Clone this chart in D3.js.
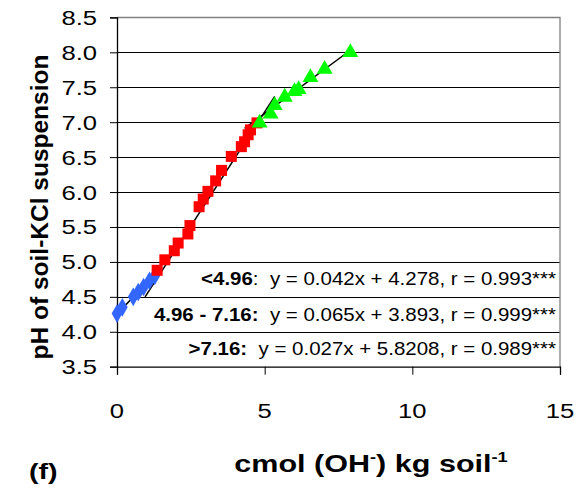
<!DOCTYPE html>
<html>
<head>
<meta charset="utf-8">
<script src="https://cdn.jsdelivr.net/npm/d3@7/dist/d3.min.js"></script>
<style>
  body { margin: 0; background: #fff; }
  text { font-family: "Liberation Sans", Arial, sans-serif; fill: #000; white-space: pre; }
</style>
</head>
<body>
<svg id="chart" width="580" height="490"></svg>
<script>
// Titration points: pH of the soil-KCl suspension vs. added base (cmol OH- per kg soil)
const lowX  = [0.0, 0.18, 0.55, 0.72, 0.90, 1.10, 1.28];
const lowY  = [4.26, 4.35, 4.50, 4.57, 4.64, 4.73, 4.80];
const midX  = [1.36, 1.62, 1.94, 2.07, 2.40, 2.47, 2.78, 2.92, 3.08, 3.34, 3.54, 3.87, 4.21, 4.32, 4.44, 4.52, 4.74];
const midY  = [4.88, 5.03, 5.16, 5.27, 5.40, 5.52, 5.79, 5.90, 6.01, 6.16, 6.31, 6.51, 6.65, 6.72, 6.82, 6.89, 6.99];
const highX = [4.83, 5.20, 5.34, 5.68, 6.01, 6.15, 6.55, 7.03, 7.90];
const highY = [6.99, 7.12, 7.24, 7.36, 7.44, 7.47, 7.64, 7.76, 8.00];

// Regression segments (start and end points) for each pH range
const lowFit  = [[0.0, 4.26], [1.45, 4.88]];
const midFit  = [[0.95, 4.50], [5.34, 7.37]];
const highFit = [[4.32, 6.91], [7.90, 8.03]];

const yTicks = [3.5, 4.0, 4.5, 5.0, 5.5, 6.0, 6.5, 7.0, 7.5, 8.0, 8.5];
const xTicks = [0, 5, 10, 15];

// Regression equations: bold range, equation, significance stars
const eqRange = ["<4.96", "4.96 - 7.16:", ">7.16:"];
const eqText  = [":  y = 0.042x + 4.278, r = 0.993", "  y = 0.065x + 3.893, r = 0.999", "  y = 0.027x + 5.8208, r = 0.989"];
const eqStars = ["***", "***", "***"];

const svg = d3.select("#chart");
const plotL = 117, plotR = 560, plotT = 17.4, plotB = 366.7;
const x = d3.scaleLinear().domain([0, 15]).range([plotL, plotR]);
const y = d3.scaleLinear().domain([3.5, 8.5]).range([plotB, plotT]);

// horizontally widened text
function stext(g, px, py, anchor, size, weight, sx) {
  const t = g.append("g").attr("transform", `translate(${px},${py}) scale(${sx || 1.22},1)`)
    .append("text").attr("text-anchor", anchor).attr("font-size", size);
  if (weight) t.attr("font-weight", weight);
  return t;
}

// horizontal gridlines
svg.append("g").selectAll("line").data(yTicks.filter(v => v > 3.5 && v < 8.5)).join("line")
  .attr("x1", plotL).attr("x2", plotR)
  .attr("y1", d => Math.round(y(d)) + 0.5).attr("y2", d => Math.round(y(d)) + 0.5)
  .attr("stroke", "#000").attr("stroke-width", 1);

// plot area frame (top and right)
svg.append("path")
  .attr("d", `M${plotL},${Math.round(plotT) + 0.5}H${plotR}V${plotB}`)
  .attr("fill", "none").attr("stroke", "#808080").attr("stroke-width", 1.3);

// y axis
const yAxis = svg.append("g").attr("transform", `translate(${plotL},0)`)
  .call(d3.axisLeft(y).tickValues(yTicks).tickSize(7).tickFormat(""));
yAxis.select(".domain").attr("stroke", "#000").attr("stroke-width", 1.3);
yAxis.selectAll(".tick line").attr("stroke", "#000");
yTicks.forEach(v => {
  stext(svg, 97, y(v) + 7.5, "end", 21).text(d3.format(".1f")(v));
});

// x axis
const xAxis = svg.append("g").attr("transform", `translate(0,${plotB})`)
  .call(d3.axisBottom(x).tickValues(xTicks).tickSize(8).tickFormat(""));
xAxis.select(".domain").attr("stroke", "#000").attr("stroke-width", 1.3);
xAxis.selectAll(".tick line").attr("stroke", "#000");
xTicks.forEach(v => {
  stext(svg, x(v), 418, "middle", 21).text(v);
});

// fitted lines
const lineGen = d3.line().x(d => x(d[0])).y(d => y(d[1]));
[lowFit, midFit, highFit].forEach(seg => {
  svg.append("path").attr("d", lineGen(seg)).attr("fill", "none")
    .attr("stroke", "#000").attr("stroke-width", 1.5);
});

// markers
const zipPts = (xs, ys) => xs.map((v, i) => [v, ys[i]]);
svg.append("g").selectAll("path").data(zipPts(lowX, lowY)).join("path")
  .attr("transform", d => `translate(${x(d[0])},${y(d[1])})`)
  .attr("d", d3.symbol(d3.symbolDiamond, 100)())
  .attr("fill", "#3366ff");
svg.append("g").selectAll("rect").data(zipPts(midX, midY)).join("rect")
  .attr("x", d => x(d[0]) - 5.5).attr("y", d => y(d[1]) - 5.5)
  .attr("width", 11).attr("height", 11).attr("fill", "#ff0000");
svg.append("g").selectAll("path").data(zipPts(highX, highY)).join("path")
  .attr("transform", d => `translate(${x(d[0])},${y(d[1])})`)
  .attr("d", d3.symbol(d3.symbolTriangle, 110)())
  .attr("fill", "#00ff00");

// regression equations
const eqBase = [285, 321, 355];
eqRange.forEach((r, i) => {
  const t = stext(svg, 556, eqBase[i], "end", 17.5, null, 1.17);
  t.append("tspan").attr("font-weight", "bold").text(r);
  t.append("tspan").text(eqText[i]);
  t.append("tspan").text(eqStars[i]);
});

// axis titles
svg.append("text")
  .attr("transform", "translate(48,207) rotate(-90)")
  .attr("text-anchor", "middle").attr("font-size", 24.5).attr("font-weight", "bold")
  .text("pH of soil-KCl suspension");

const xt = stext(svg, 371, 472, "middle", 23.5, "bold", 1.3);
xt.append("tspan").text("cmol (OH");
xt.append("tspan").attr("font-size", 14).attr("dy", -10).text("-");
xt.append("tspan").attr("dy", 10).text(") kg soil");
xt.append("tspan").attr("font-size", 14).attr("dy", -10).text("-1");

stext(svg, 29, 479, "start", 22, "bold", 1.3).text("(f)");
</script>
</body>
</html>
